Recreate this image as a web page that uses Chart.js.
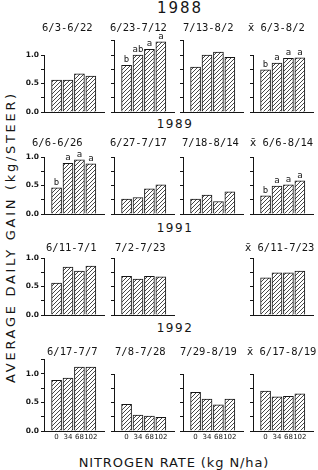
<!DOCTYPE html>
<html><head><meta charset="utf-8">
<script src="https://cdn.jsdelivr.net/npm/chart.js@4.4.1/dist/chart.umd.min.js"></script>
<style>
html,body{margin:0;padding:0;background:#fff;}
body{width:318px;height:470px;position:relative;overflow:hidden;font-family:"DejaVu Sans",sans-serif;color:#151515;}
canvas{position:absolute;}
.lbl{position:absolute;white-space:nowrap;transform:translate(-50%,-50%);line-height:1;}
.tick{position:absolute;white-space:nowrap;transform:translateX(-50%);line-height:1;font-size:7px;z-index:10;color:#151515;}
</style></head><body>
<div id="labels"></div>
<script>
// ---------- data ----------
const nRates = ['0', '34', '68', '102'];
const years = ['1988', '1989', '1991', '1992'];

const periods1988 = ['6/3-6/22', '6/23-7/12', '7/13-8/2', 'x\u0304 6/3-8/2'];
const gain1988 = [[0.56, 0.56, 0.67, 0.63], [0.82, 1.00, 1.10, 1.23], [0.79, 1.00, 1.05, 0.96], [0.74, 0.86, 0.94, 0.95]];
const sig1988 = [null, ['b', 'ab', 'a', 'a'], null, ['b', 'a', 'a', 'a']];

const periods1989 = ['6/6-6/26', '6/27-7/17', '7/18-8/14', 'x\u0304 6/6-8/14'];
const gain1989 = [[0.46, 0.89, 0.95, 0.88], [0.26, 0.29, 0.44, 0.51], [0.26, 0.33, 0.22, 0.39], [0.32, 0.49, 0.51, 0.58]];
const sig1989 = [['b', 'a', 'a', 'a'], null, null, ['b', 'a', 'a', 'a']];

const periods1991 = ['6/11-7/1', '7/2-7/23', null, 'x\u0304 6/11-7/23'];
const gain1991 = [[0.56, 0.84, 0.77, 0.86], [0.68, 0.63, 0.68, 0.67], null, [0.65, 0.74, 0.74, 0.77]];
const sig1991 = [null, null, null, null];

const periods1992 = ['6/17-7/7', '7/8-7/28', '7/29-8/19', 'x\u0304 6/17-8/19'];
const gain1992 = [[0.89, 0.93, 1.12, 1.12], [0.47, 0.28, 0.26, 0.24], [0.68, 0.56, 0.46, 0.56], [0.70, 0.60, 0.61, 0.65]];
const sig1992 = [null, null, null, null];

const axisTop = [[1, 1.25, 1.25, 1], [1, 1, 1, 1], [1, 1, null, 1], [1.25, 1, 1, 1]];

const yTitle = 'AVERAGE DAILY GAIN (kg/STEER)';
const xTitle = 'NITROGEN RATE (kg N/ha)';

// ---------- layout ----------
const rows = [
  {periods: periods1988, gain: gain1988, sig: sig1988},
  {periods: periods1989, gain: gain1989, sig: sig1989},
  {periods: periods1991, gain: gain1991, sig: sig1991},
  {periods: periods1992, gain: gain1992, sig: sig1992}
];
const axisX = [44, 114, 183, 253];
const baseY = [112, 214, 315, 431];
const subY = [28, 143, 248, 352];
const subX = [[42, 110, 183, 248], [32, 110, 182, 250], [46, 115, 0, 245], [47, 115, 180, 247]];
const yearPos = [[180, 8, 15, 2], [175, 124, 12, 1.5], [175, 228, 12, 1.5], [175, 328, 12, 1.5]];
const PX = 57; // pixels per kg

function hatchPattern() {
  const c = document.createElement('canvas');
  c.width = 4; c.height = 4;
  const g = c.getContext('2d');
  g.fillStyle = '#fff'; g.fillRect(0, 0, 4, 4);
  g.strokeStyle = '#333'; g.lineWidth = 0.9;
  g.beginPath();
  g.moveTo(0, 4); g.lineTo(4, 0);
  g.moveTo(-1, 1); g.lineTo(1, -1);
  g.moveTo(3, 5); g.lineTo(5, 3);
  g.stroke();
  return document.createElement('canvas').getContext('2d').createPattern(c, 'repeat');
}
const pattern = hatchPattern();

const labelsDiv = document.getElementById('labels');
function addLabel(text, x, y, size, spacing, rotate) {
  const d = document.createElement('div');
  d.className = 'lbl';
  d.textContent = text;
  d.style.left = x + 'px';
  d.style.top = y + 'px';
  d.style.fontSize = size + 'px';
  d.style.letterSpacing = spacing + 'px';
  if (rotate) d.style.transform = 'translate(-50%,-50%) rotate(-90deg)';
  labelsDiv.appendChild(d);
}
years.forEach((y, r) => addLabel(y, yearPos[r][0], yearPos[r][1], yearPos[r][2], yearPos[r][3]));
addLabel(yTitle, 10, 237, 13, 2.7, true);
addLabel(xTitle, 174, 462, 13, 0.9);

function drawSubtitle(ctx, text, x, y) {
  ctx.textAlign = 'left';
  ctx.textBaseline = 'middle';
  let rest = text;
  if (text.startsWith('x\u0304')) {
    ctx.font = '10.5px "DejaVu Sans"';
    ctx.fillText('x\u0304', x, y);
    x += ctx.measureText('x').width;
    rest = text.slice(2);
  }
  ctx.font = '10.5px "DejaVu Sans Mono"';
  ctx.fillText(rest, x, y);
}

const tickLabels = [];
rows.forEach((row, r) => {
  for (let c = 0; c < 4; c++) {
    const vals = row.gain[c];
    if (!vals) continue;
    const top = axisTop[r][c];
    const canvasTop = subY[r] - 10;
    const canvasLeft = axisX[c] - 40;
    const bottomH = r === 3 ? 14 : 8;
    const width = 104;
    const height = baseY[r] - canvasTop + bottomH;
    const cv = document.createElement('canvas');
    cv.width = width; cv.height = height;
    cv.style.left = canvasLeft + 'px';
    cv.style.top = canvasTop + 'px';
    document.body.appendChild(cv);
    const title = row.periods[c];
    const sig = row.sig[c];
    const tx = subX[r][c] - canvasLeft;
    const showY = c === 0;
    const showX = r === 3;
    const ch = new Chart(cv, {
      type: 'bar',
      data: {
        datasets: [{
          data: vals.map((v, i) => ({x: i, y: v})),
          backgroundColor: pattern,
          borderColor: '#151515',
          borderWidth: 1,
          borderSkipped: 'bottom',
          barThickness: 10
        }]
      },
      options: {
        responsive: false,
        animation: false,
        devicePixelRatio: 1,
        layout: {padding: {top: (baseY[r] - top * PX) - canvasTop, left: 0, right: 4, bottom: 0}},
        plugins: {legend: {display: false}, tooltip: {enabled: false}, title: {display: false}},
        scales: {
          x: {
            type: 'linear',
            offset: false,
            min: -1.1, max: 4.15,
            afterBuildTicks: s => { s.ticks = [0, 1, 2, 3].map(v => ({value: v})); },
            afterFit: s => { s.height = bottomH; },
            grid: {display: false, drawTicks: false},
            border: {display: true, color: '#151515', width: 1},
            ticks: {display: false}
          },
          y: {
            min: 0, max: top,
            afterFit: s => { s.width = 40; },
            grid: {display: true, drawOnChartArea: false, drawTicks: true, tickLength: 3, color: '#151515', lineWidth: 1},
            border: {display: true, color: '#151515', width: 1},
            ticks: {
              stepSize: 0.25,
              padding: 2,
              color: '#151515',
              font: {family: 'DejaVu Sans', size: 7.5, weight: 'bold'},
              callback: v => (showY && Math.abs(v % 0.5) < 1e-9) ? v.toFixed(1) : ''
            }
          }
        }
      },
      plugins: [{
        id: 'panelText',
        afterDraw(chart) {
          const ctx = chart.ctx;
          ctx.save();
          ctx.fillStyle = '#151515';
          drawSubtitle(ctx, title, tx, 10);
          if (sig) {
            ctx.font = '9px "DejaVu Sans Mono"';
            ctx.textAlign = 'center';
            ctx.textBaseline = 'bottom';
            chart.getDatasetMeta(0).data.forEach((el, i) => ctx.fillText(sig[i], el.x, el.y - 1));
          }
          ctx.restore();
        }
      }]
    });
    if (showX) {
      const xs = ch.scales.x;
      xs.ticks.forEach(t => {
        tickLabels.push({text: nRates[t.value], left: canvasLeft + xs.getPixelForValue(t.value), top: canvasTop + ch.chartArea.bottom + 3});
      });
    }
  }
});
tickLabels.forEach(t => {
  const d = document.createElement('div');
  d.className = 'tick';
  d.textContent = t.text;
  d.style.left = t.left + 'px';
  d.style.top = t.top + 'px';
  document.body.appendChild(d);
});
</script>
</body></html>
